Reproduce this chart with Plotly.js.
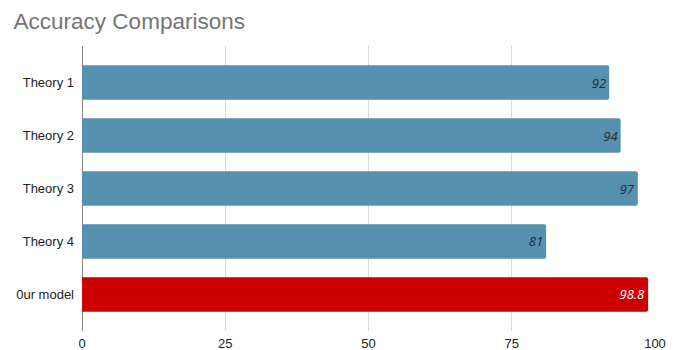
<!DOCTYPE html>
<html>
<head>
<meta charset="utf-8">
<script src="https://cdn.plot.ly/plotly-3.0.1.min.js"></script>
<style>html,body{margin:0;padding:0;background:#fff;}#chart{width:680px;height:350px;}</style>
</head>
<body>
<div id="chart"></div>
<script>
// Accuracy of each approach (%)
const models = ["Theory 1", "Theory 2", "Theory 3", "Theory 4", "0ur model"];
const accuracy = [92, 94, 97, 81, 98.8];
const barColors = ["#5791b0", "#5791b0", "#5791b0", "#5791b0", "#cc0000"];
const labelColors = ["#1f2a33", "#1f2a33", "#1f2a33", "#1f2a33", "#ffffff"];
const xTicks = [0, 25, 50, 75, 100];

const trace = {
  type: "bar",
  orientation: "h",
  y: models,
  x: accuracy,
  text: accuracy.map(String),
  textposition: "inside",
  insidetextanchor: "end",
  textangle: 0,
  textfont: { family: "Open Sans, Liberation Sans, Arial, sans-serif", size: 13, style: "italic", color: labelColors },
  marker: { color: barColors, cornerradius: 2, line: { width: 0 } },
  hoverinfo: "none"
};

const layout = {
  width: 680,
  height: 350,
  margin: { l: 82, r: 25, t: 46, b: 19 },
  paper_bgcolor: "#ffffff",
  plot_bgcolor: "#ffffff",
  bargap: 0.35,
  showlegend: false,
  title: {
    text: "Accuracy Comparisons",
    x: 0.02, xanchor: "left",
    y: 0.94, yanchor: "middle",
    font: { family: "Liberation Sans, Arial, sans-serif", size: 22.5, color: "#757575" }
  },
  xaxis: {
    range: [0, 100],
    tickvals: xTicks,
    ticktext: xTicks.map(String),
    showgrid: true,
    gridcolor: "#d9d9d9",
    gridwidth: 1,
    zeroline: true,
    zerolinecolor: "#888888",
    zerolinewidth: 1,
    showline: false,
    ticks: "",
    ticklabelstandoff: 3,
    tickfont: { family: "Liberation Sans, Arial, sans-serif", size: 13, color: "#222222" }
  },
  yaxis: {
    type: "category",
    range: [4.69, -0.69],
    showgrid: false,
    zeroline: false,
    showline: false,
    ticks: "",
    ticklabelstandoff: 7,
    tickfont: { family: "Liberation Sans, Arial, sans-serif", size: 13, color: "#222222" }
  }
};

Plotly.newPlot("chart", [trace], layout, { staticPlot: true, displayModeBar: false });
</script>
</body>
</html>
